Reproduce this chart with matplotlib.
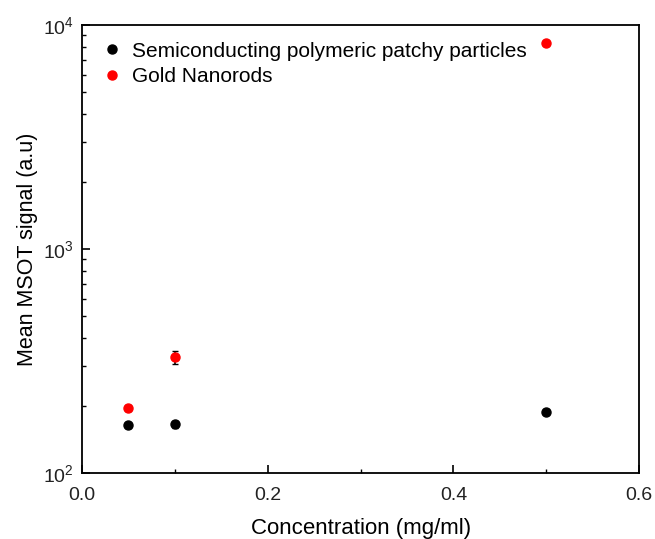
import numpy as np
import matplotlib
matplotlib.use('Agg')
import matplotlib.pyplot as plt
from matplotlib.ticker import MultipleLocator, LogLocator, NullFormatter
from matplotlib.lines import Line2D

plt.rcParams['font.family'] = ['Liberation Sans', 'DejaVu Sans']

conc = [0.05, 0.1, 0.5]
spp_signal = [163, 165, 188]
spp_err = [4, 6, 5]
gnr_signal = [196, 330, 8350]
gnr_err = [6, 22, 150]

fig = plt.figure(figsize=(6.55, 5.39), dpi=100)
ax = fig.add_axes([0.125, 0.1224, 0.851, 0.8312])

ax.errorbar(conc, spp_signal, yerr=spp_err, fmt='o', color='black', ms=6.5,
            capsize=2, elinewidth=1.2)
ax.errorbar(conc, gnr_signal, yerr=gnr_err, fmt='o', color='red', mec='red', ecolor='black',
            ms=6.5, capsize=2, elinewidth=1.2)

ax.set_yscale('log')
ax.set_xlim(0, 0.6)
ax.set_ylim(100, 10000)
ax.xaxis.set_major_locator(MultipleLocator(0.2))
ax.xaxis.set_minor_locator(MultipleLocator(0.1))
ax.yaxis.set_minor_locator(LogLocator(base=10, subs=np.arange(2, 10)))
ax.yaxis.set_minor_formatter(NullFormatter())
ax.tick_params(which='both', direction='in', top=False, right=False, labelsize=14,
               labelcolor='#222222')
ax.tick_params(axis='x', pad=10)
ax.tick_params(axis='y', pad=6)
ax.tick_params(which='major', length=6, width=1.2)
ax.tick_params(which='minor', length=3, width=1)
for s in ax.spines.values():
    s.set_linewidth(1.3)

ax.set_xlabel('Concentration (mg/ml)', fontsize=16, labelpad=10)
ax.set_ylabel('Mean MSOT signal (a.u)', fontsize=15.5, labelpad=3)

handles = [Line2D([], [], ls='none', marker='o', color='black', ms=6.5),
           Line2D([], [], ls='none', marker='o', color='red', ms=6.5)]
labels = ['Semiconducting polymeric patchy particles', 'Gold Nanorods']
ax.legend(handles, labels, loc='upper left', frameon=False, fontsize=15, handletextpad=0.3,
          borderaxespad=0.4, labelspacing=0.3, handlelength=1.3)

fig.savefig('out.png', dpi=100)
